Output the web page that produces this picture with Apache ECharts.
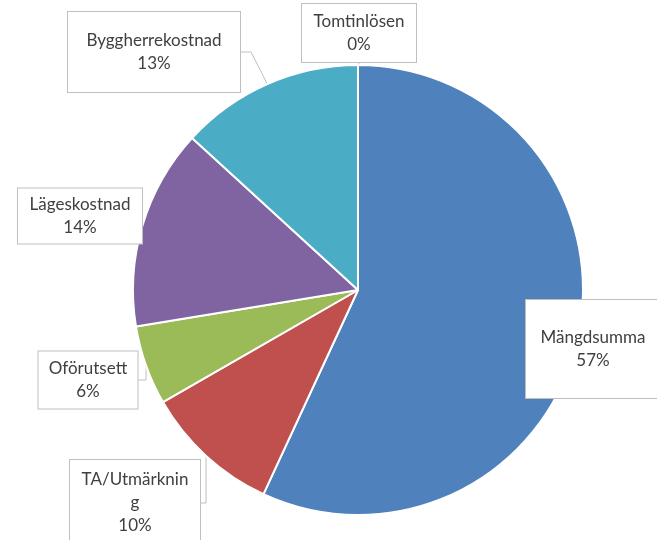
<!DOCTYPE html>
<html><head><meta charset="utf-8">
<script src="https://cdn.jsdelivr.net/npm/echarts@6/dist/echarts.min.js"></script>
<style>html,body{margin:0;padding:0;background:#fff}#c{width:657px;height:540px}</style>
</head><body><div id="c"></div>
<script>
const categories = ['Mängdsumma', 'TA/Utmärkning', 'Oförutsett', 'Lägeskostnad', 'Byggherrekostnad', 'Tomtinlösen'];
const values = [56.9, 9.8, 5.7, 14.4, 13.2, 0];
const colors = ['#4F81BD', '#C0504D', '#9BBB59', '#8064A2', '#4BACC6', '#F79646'];

// label box layout (centre x, centre y, box width, box height, text width)
const boxes = [
  [593, 349, 134, 98, 130],
  [135, 503, 130, 86, 122],
  [88, 380, 99, 57, 95],
  [80, 216, 124, 55, 120],
  [154, 52, 172, 80, 168],
  [359, 33, 114, 58, 110]
];
const showLine = [false, true, true, false, true, true];

const chart = echarts.init(document.getElementById('c'));
chart.setOption({
  animation: false,
  series: [{
    type: 'pie',
    center: [358, 290],
    radius: 225,
    startAngle: 90,
    clockwise: true,
    percentPrecision: 0,
    itemStyle: { borderColor: '#fff', borderWidth: 2 },
    data: categories.map((n, i) => ({
      name: n,
      value: values[i],
      itemStyle: { color: colors[i] },
      label: {
        width: boxes[i][4],
        height: boxes[i][3] - 12,
        padding: [6, (boxes[i][2] - boxes[i][4]) / 2],
        overflow: 'breakAll'
      },
      labelLine: { show: showLine[i] }
    })),
    label: {
      show: true,
      position: 'outside',
      formatter: '{b}\n{d}%',
      color: '#404040',
      fontFamily: 'Lato',
      fontSize: 17,
      lineHeight: 23,
      align: 'center',
      verticalAlign: 'middle',
      backgroundColor: '#fff',
      borderColor: '#bfbfbf',
      borderWidth: 1
    },
    labelLine: { show: true, length: 10, length2: 10, lineStyle: { color: '#bfbfbf', width: 1 } },
    labelLayout: function (p) {
      const b = boxes[p.dataIndex];
      return { x: b[0], y: b[1], align: 'center', verticalAlign: 'middle', hideOverlap: false };
    }
  }]
});
</script></body></html>
